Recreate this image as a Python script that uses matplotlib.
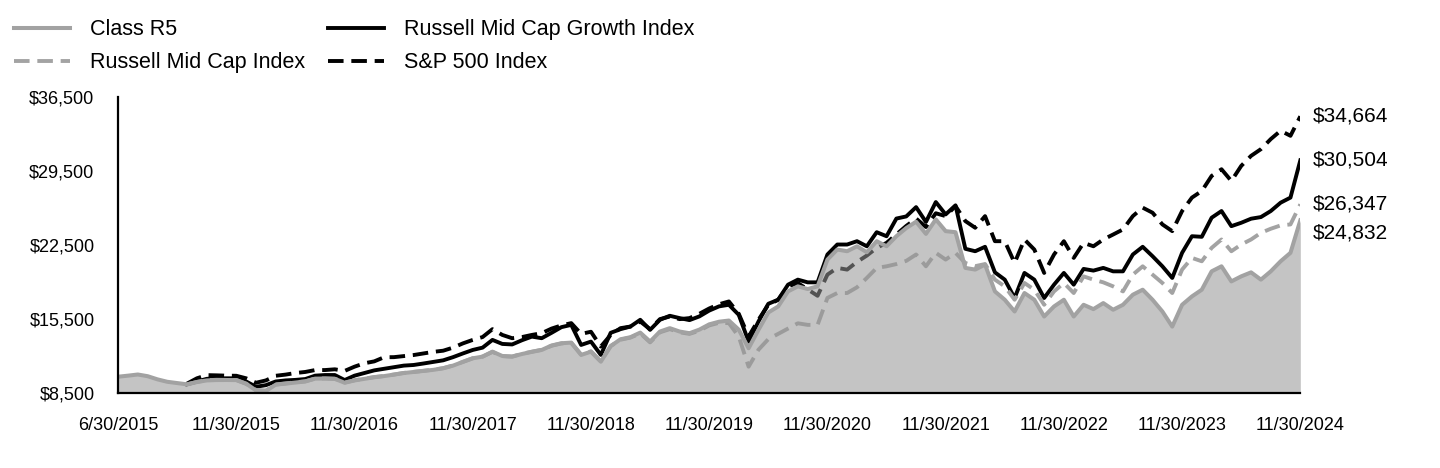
import matplotlib
matplotlib.use("Agg")
from matplotlib import pyplot as plt
from matplotlib.ticker import FuncFormatter
import numpy as np

plt.rcParams['font.family'] = ['Liberation Sans', 'DejaVu Sans']

nan = np.nan

# month-end values of a hypothetical $10,000 investment
class_r5 = [10050, 10150, 10260, 10100, 9800, 9570, 9450, 9330, 9550, 9700,
            9735, 9740, 9730, 9400, 8750, 8700, 9300, 9400, 9500, 9600,
            9870, 9880, 9850, 9480, 9700, 9850, 10000, 10110, 10250, 10400,
            10500, 10600, 10700, 10850, 11100, 11450, 11790, 11950, 12420, 12010,
            11950, 12200, 12400, 12580, 13000, 13215, 13275, 12110, 12420, 11470,
            12950, 13590, 13785, 14220, 13370, 14320, 14640, 14320, 14165, 14500,
            15000, 15250, 15360, 14500, 12740, 14480, 16120, 16690, 18115, 18590,
            18340, 18590, 21120, 22070, 21910, 22380, 21815, 22860, 22380, 23330,
            24100, 24700, 23550, 24920, 23810, 23710, 20335, 20175, 20650, 18115,
            17325, 16215, 17960, 17325, 15740, 16690, 17325, 15740, 16850, 16440,
            17010, 16380, 16850, 17800, 18275, 17325, 16215, 14790, 16850, 17640,
            18275, 20010, 20485, 19060, 19535, 19915, 19225, 20010, 20960, 21760,
            24832]

mid_cap_growth = [nan, nan, nan, nan, nan, nan, nan, 9330, 9600, 9850,
                  9900, 9900, 9900, 9600, 9100, 9250, 9600, 9700, 9750, 9830,
                  10150, 10210, 10210, 9735, 10150, 10400, 10650, 10800, 10950, 11100,
                  11160, 11300, 11450, 11600, 11900, 12250, 12580, 12800, 13530, 13150,
                  13100, 13500, 13840, 13690, 14200, 14735, 14950, 13055, 13370, 12110,
                  14200, 14545, 14790, 15430, 14480, 15430, 15810, 15590, 15400, 15750,
                  16300, 16700, 16850, 15900, 13370, 15265, 16945, 17325, 18750, 19225,
                  18970, 18970, 21600, 22545, 22545, 22860, 22380, 23710, 23330, 25000,
                  25200, 26080, 24680, 26560, 25390, 26250, 22140, 21910, 22330, 19915,
                  19225, 17490, 19860, 19225, 17490, 18750, 19860, 18750, 20240, 20080,
                  20335, 20010, 20010, 21600, 22330, 21440, 20485, 19385, 21760, 23330,
                  23275, 25080, 25710, 24280, 24600, 24985, 25140, 25710, 26500, 26980,
                  30504]

mid_cap = [nan, nan, nan, nan, nan, nan, nan, 9330, 9560, 9720,
           9760, 9750, 9740, 9380, 8800, 8750, 9320, 9420, 9520, 9620,
           9880, 9890, 9860, 9500, 9720, 9870, 10020, 10120, 10260, 10410,
           10510, 10610, 10720, 10860, 11120, 11460, 11800, 11960, 12400, 12000,
           11960, 12220, 12420, 12600, 12980, 13200, 13250, 12150, 12450, 11500,
           12950, 13550, 13750, 14150, 13300, 14250, 14550, 14250, 14100, 14400,
           14900, 15150, 15115, 13840, 11000, 12600, 13600, 14100, 14600, 15100,
           14950, 14950, 17500, 17960, 17960, 18500, 19385, 20335, 20485, 20700,
           21000, 21600, 20485, 21760, 21120, 21760, 20800, 20500, 20700, 19225,
           18590, 17325, 18910, 18275, 16850, 18115, 18910, 17960, 19535, 19225,
           18970, 18590, 18115, 19700, 20485, 19700, 18910, 17960, 20175, 21280,
           20960, 22230, 23020, 21910, 22545, 23020, 23650, 24035, 24350, 24445,
           26347]

sp500 = [nan, nan, nan, nan, nan, nan, nan, 9400, 9900, 10200,
         10180, 10150, 10140, 9900, 9480, 9700, 10140, 10250, 10400, 10500,
         10680, 10680, 10750, 10600, 11000, 11320, 11500, 11890, 11900, 12000,
         12100, 12250, 12400, 12510, 12800, 13200, 13530, 13800, 14545, 14000,
         13690, 13800, 14000, 14165, 14600, 14900, 15115, 14100, 14300, 12900,
         14000, 14640, 14790, 15265, 14545, 15495, 15740, 15495, 15590, 16000,
         16500, 16900, 17165, 16000, 13840, 15430, 16850, 17325, 18590, 18900,
         18300, 17700, 19700, 20335, 20175, 20900, 21500, 22230, 22700, 23500,
         24300, 25000, 24200, 25500, 25230, 26180, 24760, 24130, 25230, 22860,
         22860, 20810, 23020, 22070, 19860, 21600, 22860, 21280, 22700, 22380,
         23020, 23490, 23970, 25230, 26030, 25550, 24445, 23810, 25710, 26980,
         27605, 29030, 29660, 28550, 29975, 30925, 31560, 32510, 33300, 32820,
         34664]

tick_labels = ['6/30/2015', '11/30/2015', '11/30/2016', '11/30/2017', '11/30/2018',
               '11/30/2019', '11/30/2020', '11/30/2021', '11/30/2022', '11/30/2023',
               '11/30/2024']
y_ticks = [8500, 15500, 22500, 29500, 36500]

months = np.arange(len(class_r5))

fig = plt.figure(figsize=(14.4, 4.68), dpi=100)
ax = fig.add_axes([0.082, 0.160, 0.821, 0.633])

dash = (4, 2)
l_sp, = ax.plot(months, sp500, color='black', lw=2.8, dashes=dash, zorder=2,
                label='S&P 500 Index')
l_mcg, = ax.plot(months, mid_cap_growth, color='black', lw=2.8, zorder=2,
                 label='Russell Mid Cap Growth Index')
l_mc, = ax.plot(months, mid_cap, color='#a3a3a3', lw=2.8, dashes=dash, zorder=2,
                label='Russell Mid Cap Index')
ax.fill_between(months, 8500, class_r5, color='#969696', alpha=0.56, lw=0, zorder=3)
l_r5, = ax.plot(months, class_r5, color='#a2a2a2', lw=2.9, zorder=4, label='Class R5')

# ending values at the right edge
ends = [(sp500[-1], 0), (mid_cap_growth[-1], 0), (mid_cap[-1], 0), (class_r5[-1], -9)]
for val, dy in ends:
    ax.annotate('${:,.0f}'.format(val), xy=(months[-1], val), xytext=(9, dy),
                textcoords='offset points', va='center', ha='left', fontsize=15,
                annotation_clip=False)

ax.set_xlim(0, 120)
ax.set_ylim(8500, 36500)
ax.set_xticks(np.arange(0, 121, 12))
ax.set_xticklabels(tick_labels)
ax.set_yticks(y_ticks)
ax.yaxis.set_major_formatter(FuncFormatter(lambda v, p: '${:,.0f}'.format(v)))
ax.tick_params(axis='both', length=0, labelsize=13)
ax.tick_params(axis='y', pad=17)
ax.tick_params(axis='x', pad=17)
for s in ['top', 'right']:
    ax.spines[s].set_visible(False)
for s in ['left', 'bottom']:
    ax.spines[s].set_linewidth(1.6)
    ax.spines[s].set_zorder(5)

fig.legend(handles=[l_r5, l_mc, l_mcg, l_sp], ncol=2, loc='upper left',
           bbox_to_anchor=(-0.004, 1.0), frameon=False, fontsize=15.5,
           handlelength=2.6, handletextpad=0.95, columnspacing=1.05, labelspacing=0.55)

fig.savefig('out.png', dpi=100)
